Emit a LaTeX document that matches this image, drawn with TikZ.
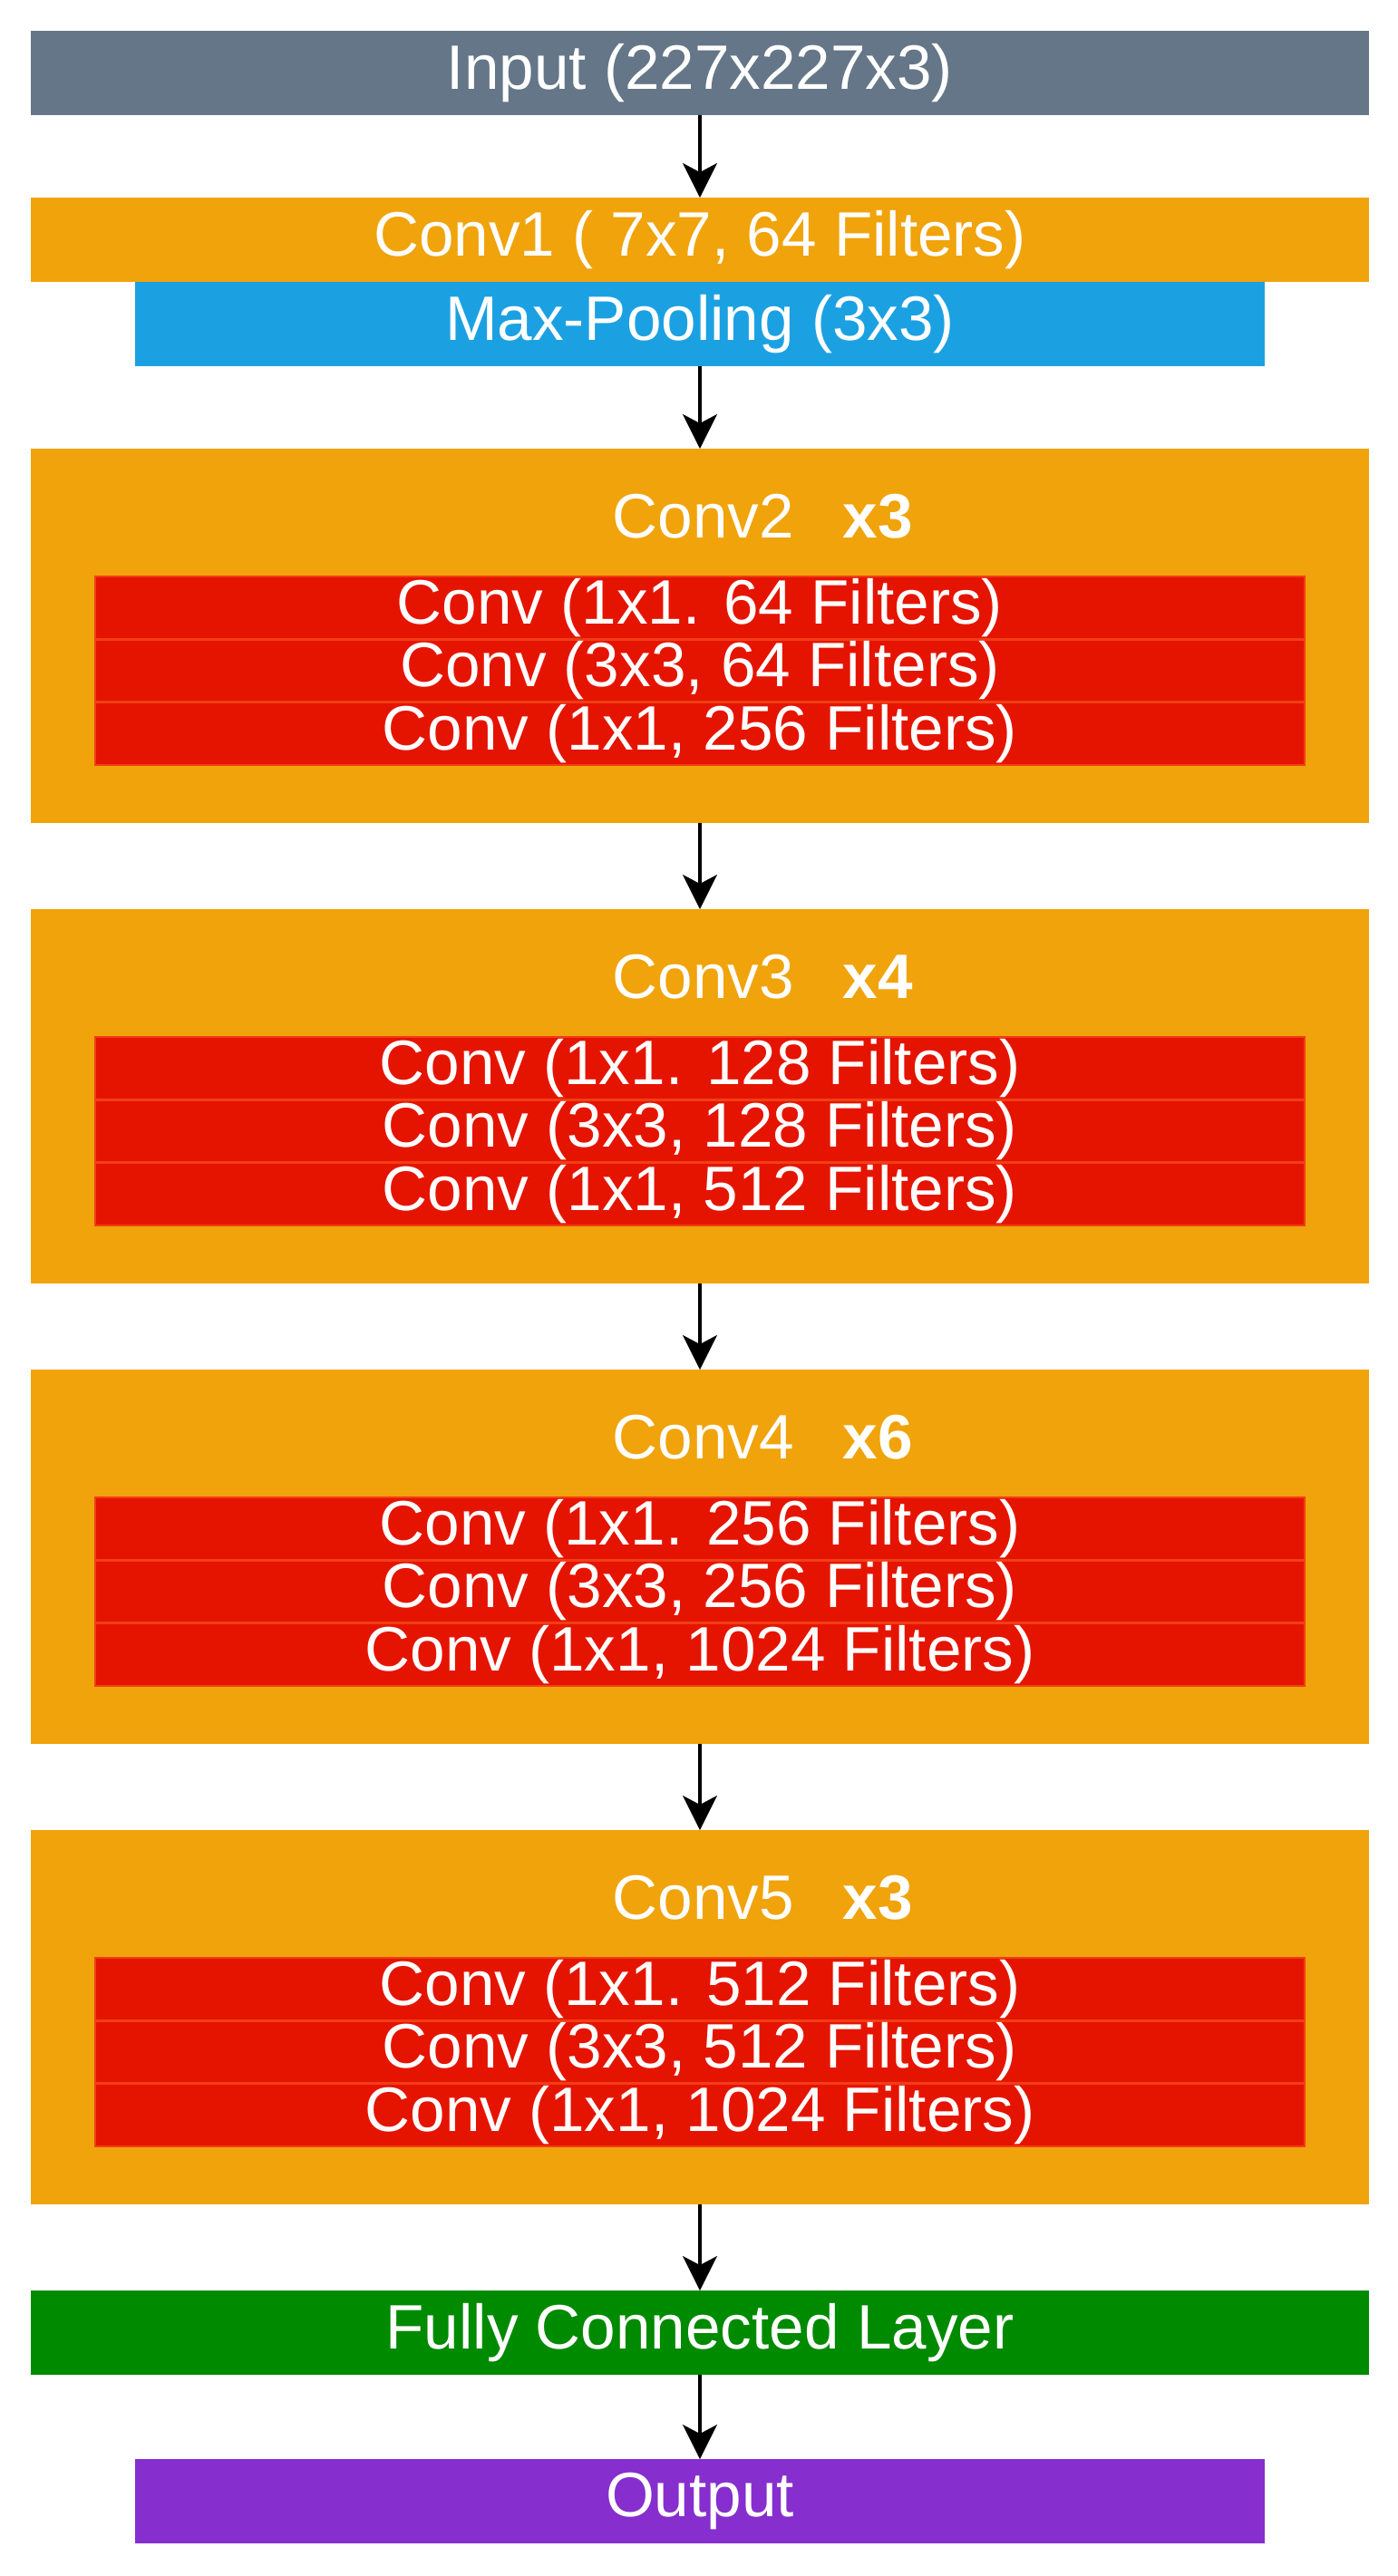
\documentclass[tikz,border=0pt]{standalone}
\usepackage{fontspec}
\setmainfont{Liberation Sans}
\usetikzlibrary{positioning,arrows.meta}
\definecolor{inputGray}{HTML}{647687}
\definecolor{convOrange}{HTML}{F0A30A}
\definecolor{poolBlue}{HTML}{1BA1E2}
\definecolor{rowRed}{HTML}{E51400}
\definecolor{rowEdge}{RGB}{242,62,22}
\definecolor{fcGreen}{HTML}{008A00}
\definecolor{outPurple}{RGB}{134,46,206}

\begin{document}
\begin{tikzpicture}[node distance=0.91cm]
	%defines
	\tikzstyle{layerText} = [font=\fontsize{19.7pt}{23pt}\selectfont, text=white]
	\tikzstyle{inputLayer} = [rectangle, minimum width=14.76cm, minimum height=0.93cm, inner sep=0pt, outer sep=0pt, text centered, fill=inputGray, layerText]
	\tikzstyle{convLayer} = [rectangle, minimum width=14.76cm, minimum height=0.93cm, inner sep=0pt, outer sep=0pt, text centered, fill=convOrange, layerText]
	\tikzstyle{poolLayer} = [rectangle, minimum width=12.46cm, minimum height=0.93cm, inner sep=0pt, outer sep=0pt, text centered, fill=poolBlue, layerText]
	\tikzstyle{convBlock} = [rectangle, minimum width=14.76cm, minimum height=4.13cm, inner sep=0pt, outer sep=0pt, fill=convOrange]
	\tikzstyle{blockTitle} = [inner sep=0pt, anchor=west, layerText]
	\tikzstyle{convRow} = [rectangle, minimum width=13.34cm, minimum height=0.693cm, inner sep=0pt, outer sep=0pt, text centered, fill=rowRed, draw=rowEdge, line width=0.8pt, layerText]
	\tikzstyle{fcLayer} = [rectangle, minimum width=14.76cm, minimum height=0.93cm, inner sep=0pt, outer sep=0pt, text centered, fill=fcGreen, layerText]
	\tikzstyle{outputLayer} = [rectangle, minimum width=12.46cm, minimum height=0.93cm, inner sep=0pt, outer sep=0pt, text centered, fill=outPurple, layerText]
	\tikzstyle{arrow} = [line width=0.9pt,->,>={Stealth[length=0.38cm,width=0.38cm,inset=0.1cm]}]
	%chart
	\useasboundingbox (0,0) rectangle (15.42,-28.42);
	\node (input) [inputLayer] at (7.72,-0.805) {Input (227x227x3)};
	\node (conv1) [convLayer, below=of input] {Conv1 ( 7x7, 64 Filters)};
	\node (pool) [poolLayer, below=0cm of conv1] {Max-Pooling (3x3)};
	% conv2
	\node (conv2) [convBlock, below=of pool] {};
	\node (conv2Title) [blockTitle] at ([xshift=-0.97cm,yshift=-0.75cm]conv2.north) {Conv2\hspace{0.78em}\textbf{x3}};
	\node (conv2a) [convRow] at ([yshift=-1.757cm]conv2.north) {Conv (1x1. 64 Filters)};
	\node (conv2b) [convRow, below=0cm of conv2a] {Conv (3x3, 64 Filters)};
	\node (conv2c) [convRow, below=0cm of conv2b] {Conv (1x1, 256 Filters)};
	% conv3
	\node (conv3) [convBlock, below=0.95cm of conv2] {};
	\node (conv3Title) [blockTitle] at ([xshift=-0.97cm,yshift=-0.75cm]conv3.north) {Conv3\hspace{0.78em}\textbf{x4}};
	\node (conv3a) [convRow] at ([yshift=-1.757cm]conv3.north) {Conv (1x1. 128 Filters)};
	\node (conv3b) [convRow, below=0cm of conv3a] {Conv (3x3, 128 Filters)};
	\node (conv3c) [convRow, below=0cm of conv3b] {Conv (1x1, 512 Filters)};
	% conv4
	\node (conv4) [convBlock, below=0.95cm of conv3] {};
	\node (conv4Title) [blockTitle] at ([xshift=-0.97cm,yshift=-0.75cm]conv4.north) {Conv4\hspace{0.78em}\textbf{x6}};
	\node (conv4a) [convRow] at ([yshift=-1.757cm]conv4.north) {Conv (1x1. 256 Filters)};
	\node (conv4b) [convRow, below=0cm of conv4a] {Conv (3x3, 256 Filters)};
	\node (conv4c) [convRow, below=0cm of conv4b] {Conv (1x1, 1024 Filters)};
	% conv5
	\node (conv5) [convBlock, below=0.95cm of conv4] {};
	\node (conv5Title) [blockTitle] at ([xshift=-0.97cm,yshift=-0.75cm]conv5.north) {Conv5\hspace{0.78em}\textbf{x3}};
	\node (conv5a) [convRow] at ([yshift=-1.757cm]conv5.north) {Conv (1x1. 512 Filters)};
	\node (conv5b) [convRow, below=0cm of conv5a] {Conv (3x3, 512 Filters)};
	\node (conv5c) [convRow, below=0cm of conv5b] {Conv (1x1, 1024 Filters)};
	% head
	\node (fc) [fcLayer, below=0.95cm of conv5] {Fully Connected Layer};
	\node (output) [outputLayer, below=0.93cm of fc] {Output};
	\draw [arrow] (input) -- (conv1);
	\draw [arrow] (pool) -- (conv2);
	\draw [arrow] (conv2) -- (conv3);
	\draw [arrow] (conv3) -- (conv4);
	\draw [arrow] (conv4) -- (conv5);
	\draw [arrow] (conv5) -- (fc);
	\draw [arrow] (fc) -- (output);
\end{tikzpicture}
\end{document}
